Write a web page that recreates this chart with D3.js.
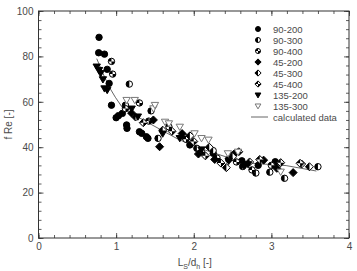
<!DOCTYPE html>
<html>
<head>
<meta charset="utf-8">
<script src="https://cdn.jsdelivr.net/npm/d3@7"></script>
<style>
  body { margin: 0; background: #fff; }
  svg text { font-family: "Liberation Sans", Arial, sans-serif; }
</style>
</head>
<body>
<div id="chart"></div>
<script>
var width = 357;
var height = 271;
var margin = {left: 38.5, right: 8, top: 11, bottom: 33};

// data: [Ls/dh, f Re]
var s90_200 = [[0.78,88.4],[0.775,81.6],[0.85,81.0],[0.885,74.3],[0.91,68.1],[0.94,58.5],[1.00,53.0],[1.03,53.9],
  [1.08,54.9],[1.135,49.8],[1.14,48.3],[1.30,46.8],[1.33,46.1],[1.39,44.6],[1.41,43.9],[1.95,41.0],[2.25,37.3],[2.62,34.0],[2.83,32.0],[3.05,33.6]];
var s90_300 = [[1.17,67.8],[1.12,58.5],[1.45,56.0],[1.54,43.9],[1.88,44.5],[2.04,39.5],[2.25,38.5],[2.45,34.6],[2.63,31.5],[2.8,28.6],[2.98,29.0],[3.17,26.3],[3.6,31.4]];
var s90_400 = [[0.94,77.8],[0.955,72.2],[1.12,57.0],[1.3,59.5],[1.42,51.5],[1.68,49.0],[1.9,43.5],[2.1,38.0],[2.3,35.2],[2.55,33.5],[2.75,30.0],[3.0,32.0]];
var s45_200 = [[1.2,55.0],[1.48,52.0],[1.56,40.2],[1.85,46.0],[2.06,37.0],[2.27,34.6],[2.52,37.0],[2.65,32.0],[2.9,34.3],[3.07,30.7],[3.28,28.8]];
var s45_300 = [[1.25,53.3],[1.6,47.5],[1.95,45.0],[2.2,40.0],[2.42,31.0],[2.5,35.8],[2.72,33.5],[3.39,32.6],[3.49,31.4]];
var s45_400 = [[1.35,50.8],[1.72,47.0],[2.0,42.5],[2.15,36.2],[2.35,33.0],[2.58,38.0],[2.85,34.6],[3.12,33.2],[3.37,32.9]];
var s135_200 = [[0.75,75.5],[0.78,74.0],[0.80,72.6],[0.83,69.9],[0.85,65.9],[0.885,65.2],[1.2,57.0],[1.28,53.5],[1.6,46.0],[1.82,44.0],[2.1,39.0],[2.45,34.0],[2.7,32.5]];
var s135_300 = [[1.135,60.8],[1.24,60.8],[1.48,57.1],[1.50,58.6],[1.63,51.2],[1.68,50.5],[1.82,49.0],[2.01,46.1],[2.10,44.0],[2.19,43.3],[2.44,37.3],[2.57,38.0],[3.12,29.2]];
var calcLine = [[0.75,79],[0.85,71],[0.92,66],[0.99,62],[1.09,57],[1.22,54.5],[1.4,51],[1.56,48],[1.8,43.5],[2.08,39.5],[2.5,34.8],[2.76,32.9],[3.19,31.9],[3.58,29.5]];

var seriesNames = ['90-200','90-300','90-400','45-200','45-300','45-400','135-200','135-300'];
var seriesData = [s90_200, s90_300, s90_400, s45_200, s45_300, s45_400, s135_200, s135_300];
var seriesShape = ['circle','circleHalf','circleQuarter','diamond','diamondHalf','diamondQuarter','triDown','triOpen'];

var xTicks = [0,1,2,3,4];
var yTicks = [0,20,40,60,80,100];

var svg = d3.select('#chart').append('svg')
  .attr('width', width).attr('height', height);

var x = d3.scaleLinear().domain([0,4]).range([margin.left, width - margin.right]);
var y = d3.scaleLinear().domain([0,100]).range([height - margin.bottom, margin.top]);

var axisColor = '#333';
var labelColor = '#4a4a4a';

function styleAxis(g) {
  g.select('.domain').remove();
  g.selectAll('line').attr('stroke', axisColor).attr('stroke-width', 0.8);
  g.selectAll('text').attr('fill', labelColor).attr('font-size', 10);
}

var xMinor = d3.range(0, 4.001, 0.2);
var yMinor = d3.range(0, 100.1, 4);

// bottom
svg.append('g').attr('transform', `translate(0,${y(0)})`)
  .call(d3.axisBottom(x).tickValues(xMinor).tickSize(-3).tickFormat('')).call(styleAxis);
svg.append('g').attr('transform', `translate(0,${y(0)})`)
  .call(d3.axisBottom(x).tickValues(xTicks).tickSize(-5).tickPadding(5).tickFormat(d3.format('d'))).call(styleAxis);
// top
svg.append('g').attr('transform', `translate(0,${y(100)})`)
  .call(d3.axisTop(x).tickValues(xMinor).tickSize(-3).tickFormat('')).call(styleAxis);
svg.append('g').attr('transform', `translate(0,${y(100)})`)
  .call(d3.axisTop(x).tickValues(xTicks).tickSize(-5).tickFormat('')).call(styleAxis);
// left
svg.append('g').attr('transform', `translate(${x(0)},0)`)
  .call(d3.axisLeft(y).tickValues(yMinor).tickSize(-3).tickFormat('')).call(styleAxis);
svg.append('g').attr('transform', `translate(${x(0)},0)`)
  .call(d3.axisLeft(y).tickValues(yTicks).tickSize(-5).tickPadding(5).tickFormat(d3.format('d'))).call(styleAxis);
// right
svg.append('g').attr('transform', `translate(${x(4)},0)`)
  .call(d3.axisRight(y).tickValues(yMinor).tickSize(-3).tickFormat('')).call(styleAxis);
svg.append('g').attr('transform', `translate(${x(4)},0)`)
  .call(d3.axisRight(y).tickValues(yTicks).tickSize(-5).tickFormat('')).call(styleAxis);

// frame
svg.append('rect')
  .attr('x', x(0)).attr('y', y(100))
  .attr('width', x(4) - x(0)).attr('height', y(0) - y(100))
  .attr('fill', 'none').attr('stroke', axisColor).attr('stroke-width', 1);

// axis titles
svg.append('text')
  .attr('transform', `translate(12,${(y(0)+y(100))/2}) rotate(-90)`)
  .attr('text-anchor', 'middle')
  .attr('fill', labelColor).attr('font-size', 10)
  .text('f Re [-]');

var xt = svg.append('text')
  .attr('x', (x(0)+x(4))/2 + 1).attr('y', 266)
  .attr('text-anchor', 'middle')
  .attr('fill', labelColor).attr('font-size', 10);
xt.append('tspan').text('L');
xt.append('tspan').attr('font-size', 7).attr('dy', 3).text('S');
xt.append('tspan').attr('dy', -3).text('/d');
xt.append('tspan').attr('font-size', 7).attr('dy', 3).text('h');
xt.append('tspan').attr('dy', -3).text(' [-]');

// calculated curve
svg.append('path')
  .datum(calcLine)
  .attr('d', d3.line().x(d => x(d[0])).y(d => y(d[1])))
  .attr('fill', 'none').attr('stroke', '#555').attr('stroke-width', 0.9);

// marker drawing
function drawMarker(g, shape, r) {
  if (shape.indexOf('circle') === 0) {
    g.append('circle').attr('r', r)
      .attr('fill', shape === 'circle' ? '#000' : '#fff')
      .attr('stroke', '#000').attr('stroke-width', 1);
    if (shape === 'circleHalf') {
      g.append('path').attr('d', `M0,${-r} A${r},${r} 0 0 0 0,${r} Z`).attr('fill', '#000');
    }
    if (shape === 'circleQuarter') {
      g.append('path').attr('d', `M0,0 L0,${-r} A${r},${r} 0 0 0 ${-r},0 Z M0,0 L0,${r} A${r},${r} 0 0 0 ${r},0 Z`).attr('fill', '#000');
    }
  } else if (shape.indexOf('diamond') === 0) {
    var d = r * 1.25;
    g.append('path').attr('d', `M0,${-d} L${d},0 L0,${d} L${-d},0 Z`)
      .attr('fill', shape === 'diamond' ? '#000' : '#fff')
      .attr('stroke', '#000').attr('stroke-width', 1);
    if (shape === 'diamondHalf') {
      g.append('path').attr('d', `M0,${-d} L${-d},0 L0,${d} Z`).attr('fill', '#000');
    }
    if (shape === 'diamondQuarter') {
      g.append('path').attr('d', `M0,0 L0,${-d} L${-d},0 Z M0,0 L0,${d} L${d},0 Z`).attr('fill', '#000');
    }
  } else {
    var t = r * 1.15;
    g.append('path').attr('d', `M${-t},${-t*0.7} L${t},${-t*0.7} L0,${t} Z`)
      .attr('fill', shape === 'triDown' ? '#000' : '#fff')
      .attr('stroke', shape === 'triDown' ? '#000' : '#777')
      .attr('stroke-width', 1);
  }
}

// points
seriesData.forEach(function(data, i) {
  svg.append('g').selectAll('g')
    .data(data)
    .enter()
    .append('g')
    .attr('transform', d => `translate(${x(d[0])},${y(d[1])})`)
    .each(function() { drawMarker(d3.select(this), seriesShape[i], 3.2); });
});

// legend
var legend = svg.append('g').attr('transform', 'translate(258,29)');
seriesNames.forEach(function(name, i) {
  var row = legend.append('g').attr('transform', `translate(0,${i * 11})`);
  drawMarker(row.append('g'), seriesShape[i], 2.5);
  row.append('text').attr('x', 15).attr('y', 3.5)
    .attr('fill', labelColor).attr('font-size', 9.5).text(name);
});
var lrow = legend.append('g').attr('transform', `translate(0,${8 * 11})`);
lrow.append('line').attr('x1', -7).attr('x2', 10).attr('stroke', '#555').attr('stroke-width', 0.9);
lrow.append('text').attr('x', 15).attr('y', 3.5)
  .attr('fill', labelColor).attr('font-size', 9.5).text('calculated data');
</script>
</body>
</html>
